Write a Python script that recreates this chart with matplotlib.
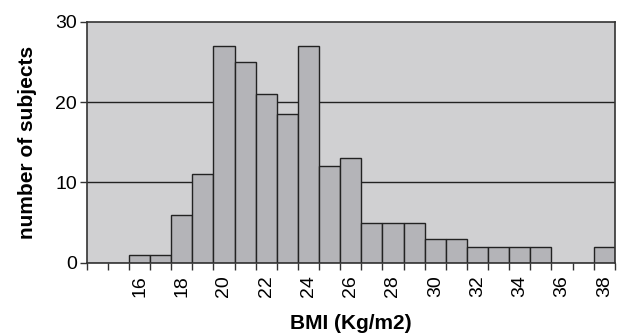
import numpy as np
import matplotlib.pyplot as plt

plt.rcParams['font.family'] = ['Liberation Sans', 'DejaVu Sans']

# BMI categories (Kg/m2) and number of subjects in each
bmi = list(range(14, 39))
counts = [0, 0, 1, 1, 6, 11, 27, 25, 21, 18.5, 27, 12, 13,
          5, 5, 5, 3, 3, 2, 2, 2, 2, 0, 0, 2]
y_ticks = [0, 10, 20, 30]


def plot_bmi(bmi, counts):
    fig = plt.figure(figsize=(6.21, 3.33), dpi=100)
    ax = fig.add_axes([0.1396, 0.211, 0.8504, 0.724])
    ax.set_facecolor('#d0d0d2')

    idx = np.arange(len(bmi))
    ax.bar(idx, counts, width=1.0, color='#b4b4b8', edgecolor='#222222',
           linewidth=1.0, zorder=2)

    ax.set_xlim(-0.5, len(bmi) - 0.5)
    ax.set_ylim(0, 30)

    # labels on even categories, tick marks at category boundaries
    ax.set_xticks(idx)
    ax.set_xticklabels([str(b) if b % 2 == 0 and b >= 16 else '' for b in bmi],
                       rotation=90, fontsize=14)
    ax.tick_params(axis='x', which='major', length=0, pad=9)
    ax.set_xticks(np.arange(len(bmi) + 1) - 0.5, minor=True)
    ax.tick_params(axis='x', which='minor', length=5, width=1.0, color='#333333')

    ax.set_yticks(y_ticks)
    ax.tick_params(axis='y', length=5, width=1.0, color='#333333', labelsize=14, pad=2)
    for yv in [10, 20]:
        ax.axhline(yv, color='#222222', linewidth=1.0, zorder=1)

    for s in ax.spines.values():
        s.set_color('#333333')
        s.set_linewidth(1.2)
        s.set_zorder(3)

    ax.set_xlabel('BMI (Kg/m2)', fontsize=15, fontweight='bold', labelpad=12)
    ax.set_ylabel('number of subjects', fontsize=15, fontweight='bold', labelpad=13)

    fig.savefig('out.png', dpi=100)


if __name__ == "__main__":
    plot_bmi(bmi, counts)
